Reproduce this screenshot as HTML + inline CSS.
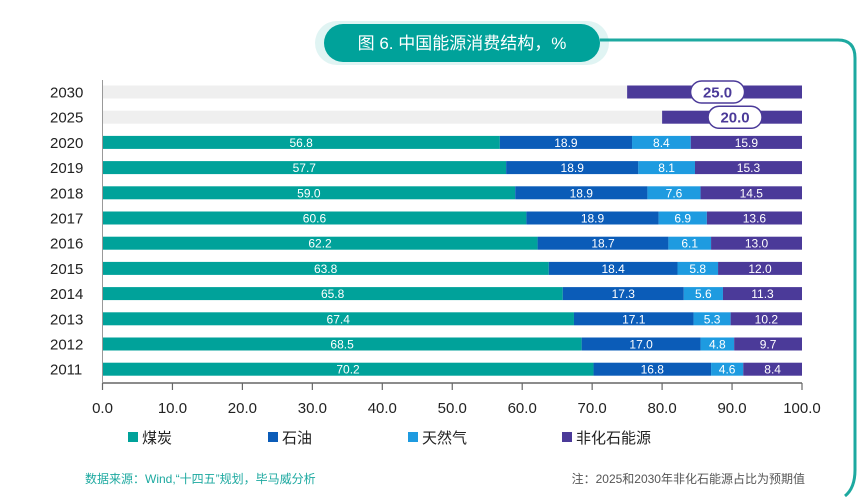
<!DOCTYPE html>
<html><head><meta charset="utf-8"><style>
html,body{margin:0;padding:0;background:#fff;}
svg{display:block;font-family:"Liberation Sans","Noto Sans CJK SC",sans-serif;}
</style></head><body>
<svg id="c" width="857" height="504" viewBox="0 0 857 504" xmlns="http://www.w3.org/2000/svg">
<defs>
<linearGradient id="lf" x1="0" x2="1"><stop offset="0" stop-color="#00A29A" stop-opacity="0"/><stop offset="1" stop-color="#00A29A" stop-opacity="0.6"/></linearGradient>
</defs>
<path d="M300 40 H324" stroke="url(#lf)" stroke-width="3" fill="none"/>
<path d="M600 40 H838 Q855 40 855 58 V470 Q855 488 845 496" stroke="#1DA9A0" stroke-width="3" fill="none"/>
<rect x="315" y="21" width="294" height="44" rx="22" fill="#00A29A" opacity="0.12"/>
<rect x="324" y="24" width="276" height="38" rx="19" fill="#00A29A"/>
<text x="462" y="49" text-anchor="middle" fill="#fff" font-size="17">图 6. 中国能源消费结构，%</text>
<g id="plot"></g>
<text x="85" y="483" fill="#1DA9A0" font-size="12">数据来源：Wind,“十四五”规划，毕马威分析</text>
<text x="805" y="483" text-anchor="end" fill="#555" font-size="12">注：2025和2030年非化石能源占比为预期值</text>
</svg>
<script>
const years = ["2030","2025","2020","2019","2018","2017","2016","2015","2014","2013","2012","2011"];
const coal = [null,null,56.8,57.7,59.0,60.6,62.2,63.8,65.8,67.4,68.5,70.2];
const oil = [null,null,18.9,18.9,18.9,18.9,18.7,18.4,17.3,17.1,17.0,16.8];
const gas = [null,null,8.4,8.1,7.6,6.9,6.1,5.8,5.6,5.3,4.8,4.6];
const nonfossil = [25.0,20.0,15.9,15.3,14.5,13.6,13.0,12.0,11.3,10.2,9.7,8.4];
const xTicks = [0,10,20,30,40,50,60,70,80,90,100];
const seriesNames = ["煤炭","石油","天然气","非化石能源"];
const colors = ["#00A29A","#0B5CB8","#1E9BE0","#4B3A99"];
const NS="http://www.w3.org/2000/svg";
const g=document.getElementById('plot');
const X0=102.5,X1=802;
const x=v=>X0+(X1-X0)*v/100;
const y=i=>92+i*25.2;
const BH=13;
function mk(t,a,p){const e=document.createElementNS(NS,t);for(const k in a)e.setAttribute(k,a[k]);(p||g).appendChild(e);return e;}
years.forEach((yr,i)=>{
  const cy=y(i);
  const lab=mk('text',{x:50,y:cy+5.5,'font-size':15,fill:'#222'});lab.textContent=yr;
  
  
  if(coal[i]===null){
    const nf=nonfossil[i];
    const gr=mk('rect',{x:x(0),y:cy-BH/2,width:x(100-nf)-x(0),height:BH,fill:'#EFEFEF'});
    
    
    const pr=mk('rect',{x:x(100-nf),y:cy-BH/2,width:x(100)-x(100-nf),height:BH,fill:colors[3]});
    
    
    const cx=(x(100-nf)+x(100))/2+3;
    const pill=mk('rect',{x:cx-27,y:cy-11,width:54,height:22,rx:11,fill:'#fff',stroke:colors[3],'stroke-width':1.5});
    
    
    const t=mk('text',{x:cx,y:cy+5.5,'text-anchor':'middle','font-size':15,'font-weight':'bold',fill:colors[3]});t.textContent=nf.toFixed(1);
    
    
    return;
  }
  const vals=[coal[i],oil[i],gas[i],nonfossil[i]];
  const keys=['coal','oil','gas','nonfossil'];
  let acc=0;
  vals.forEach((v,k)=>{
    const end=k===3?100:acc+v;
    const r=mk('rect',{x:x(acc),y:cy-BH/2,width:x(end)-x(acc),height:BH,fill:colors[k]});
    
    
    const t=mk('text',{x:(x(acc)+x(end))/2,y:cy+4.5,'text-anchor':'middle','font-size':12,fill:'#fff'});t.textContent=v.toFixed(1);
    
    
    acc=end;
  });
});
const ax=mk('line',{x1:X0,x2:X1,y1:383,y2:383,stroke:'#666','stroke-width':1.5});


const yl=mk('line',{x1:X0,x2:X0,y1:80,y2:383,stroke:'#999','stroke-width':1});


xTicks.forEach(v=>{
  const tk=mk('line',{x1:x(v),x2:x(v),y1:383,y2:390,stroke:'#666','stroke-width':1.2});
  
  
  const t=mk('text',{x:x(v),y:413,'text-anchor':'middle','font-size':15,fill:'#222'});t.textContent=v.toFixed(1);
  
  
});
const legX=[128,268,408,562];
seriesNames.forEach((n,k)=>{
  const s=mk('rect',{x:legX[k],y:432,width:10,height:10,fill:colors[k]});
  
  
  const t=mk('text',{x:legX[k]+14,y:443,'font-size':15,fill:'#222'});t.textContent=n;
  
  
});
</script>
</body></html>
